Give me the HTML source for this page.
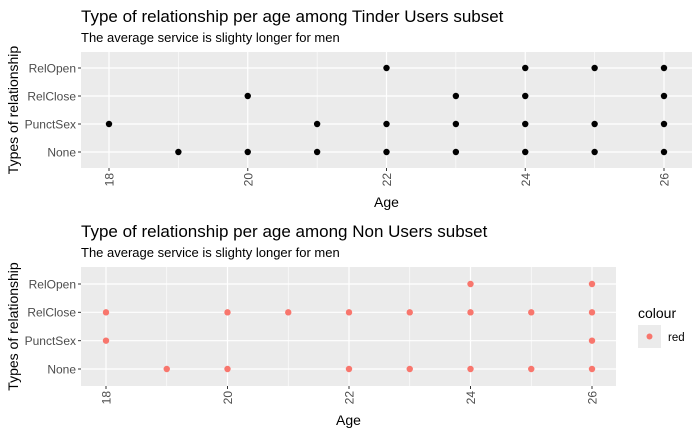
<!DOCTYPE html>
<html><head><meta charset="utf-8"><style>
body{margin:0;background:#fff}
svg{display:block;font-family:"Liberation Sans",sans-serif}
</style></head><body>
<svg id="chart" width="700" height="432" viewBox="0 0 700 432">
<text x="81" y="22" font-size="17" fill="#000">Type of relationship per age among Tinder Users subset</text>
<text x="81" y="42" font-size="13" fill="#000">The average service is slighty longer for men</text>
<text x="81" y="237" font-size="17" fill="#000">Type of relationship per age among Non Users subset</text>
<text x="81" y="257" font-size="13" fill="#000">The average service is slighty longer for men</text>
<g>
<text x="638" y="318" font-size="14" fill="#000">colour</text>
<rect x="638" y="325" width="23" height="23" fill="#ebebeb"/>
<circle cx="649.5" cy="336.5" r="3" fill="#F8766D"/>
<text x="668" y="341" font-size="11.5" fill="#000">red</text>
</g>
</svg>
<script>
const categories = ["None","PunctSex","RelClose","RelOpen"];
const xTicks = [18,20,22,24,26];
const topRelOpen = [22,24,25,26];
const topRelClose = [20,23,24,26];
const topPunctSex = [18,21,22,23,24,25,26];
const topNone = [19,20,21,22,23,24,25,26];
const botRelOpen = [24,26];
const botRelClose = [18,20,21,22,23,24,25,26];
const botPunctSex = [18,26];
const botNone = [19,20,22,23,24,25,26];

const NS="http://www.w3.org/2000/svg";
const svg=document.getElementById('chart');
function mk(t,a,p){const e=document.createElementNS(NS,t);for(const k in a)e.setAttribute(k,a[k]);(p||svg).appendChild(e);return e;}

function panel(name,L,R,T,B,x18,x26,yTop,yBot,series,color){
  const g=mk('g',{});
  
  
  const xs=v=>x18+(v-18)*(x26-x18)/8;
  const ys=i=>yBot-i*(yBot-yTop)/(categories.length-1);
  mk('rect',{x:L,y:T,width:R-L,height:B-T,fill:'#ebebeb'},g);
  for(let v=19;v<=25;v+=2){mk('line',{x1:xs(v),x2:xs(v),y1:T,y2:B,stroke:'#fff','stroke-width':0.6},g);}
  xTicks.forEach(v=>{
    mk('line',{x1:xs(v),x2:xs(v),y1:T,y2:B,stroke:'#fff','stroke-width':1.2},g);
    mk('line',{x1:xs(v),x2:xs(v),y1:B,y2:B+3,stroke:'#333','stroke-width':1},g);
    const t=mk('text',{x:0,y:0,'font-size':12,fill:'#4d4d4d','text-anchor':'end',transform:`translate(${xs(v)+4.5},${B+5}) rotate(-90)`},g);
    t.textContent=v;
    
    
  });
  categories.forEach((c,i)=>{
    mk('line',{x1:L,x2:R,y1:ys(i),y2:ys(i),stroke:'#fff','stroke-width':1.2},g);
    mk('line',{x1:L-3,x2:L,y1:ys(i),y2:ys(i),stroke:'#333','stroke-width':1},g);
    const t=mk('text',{x:L-5,y:ys(i)+4.3,'font-size':12,fill:'#4d4d4d','text-anchor':'end'},g);
    t.textContent=c;
    
    
  });
  series.forEach((arr,i)=>arr.forEach(v=>{
    const p=mk('circle',{cx:xs(v),cy:ys(i),r:3.2,fill:color},g);
    
    
  }));
  const xt=mk('text',{x:(L+R)/2,y:B+39,'font-size':14,'text-anchor':'middle',fill:'#000'},g);
  xt.textContent='Age';
  
  
  const yt=mk('text',{x:0,y:0,'font-size':14,'text-anchor':'middle',fill:'#000',transform:`translate(18,${(T+B)/2}) rotate(-90)`},g);
  yt.textContent='Types of relationship';
  
  
}
panel('top',81,692,52,168,109,664,68,152,[topNone,topPunctSex,topRelClose,topRelOpen],'#000');
panel('bottom',81,616,267,386,106,592,284,369,[botNone,botPunctSex,botRelClose,botRelOpen],'#F8766D');
</script>
</body></html>
